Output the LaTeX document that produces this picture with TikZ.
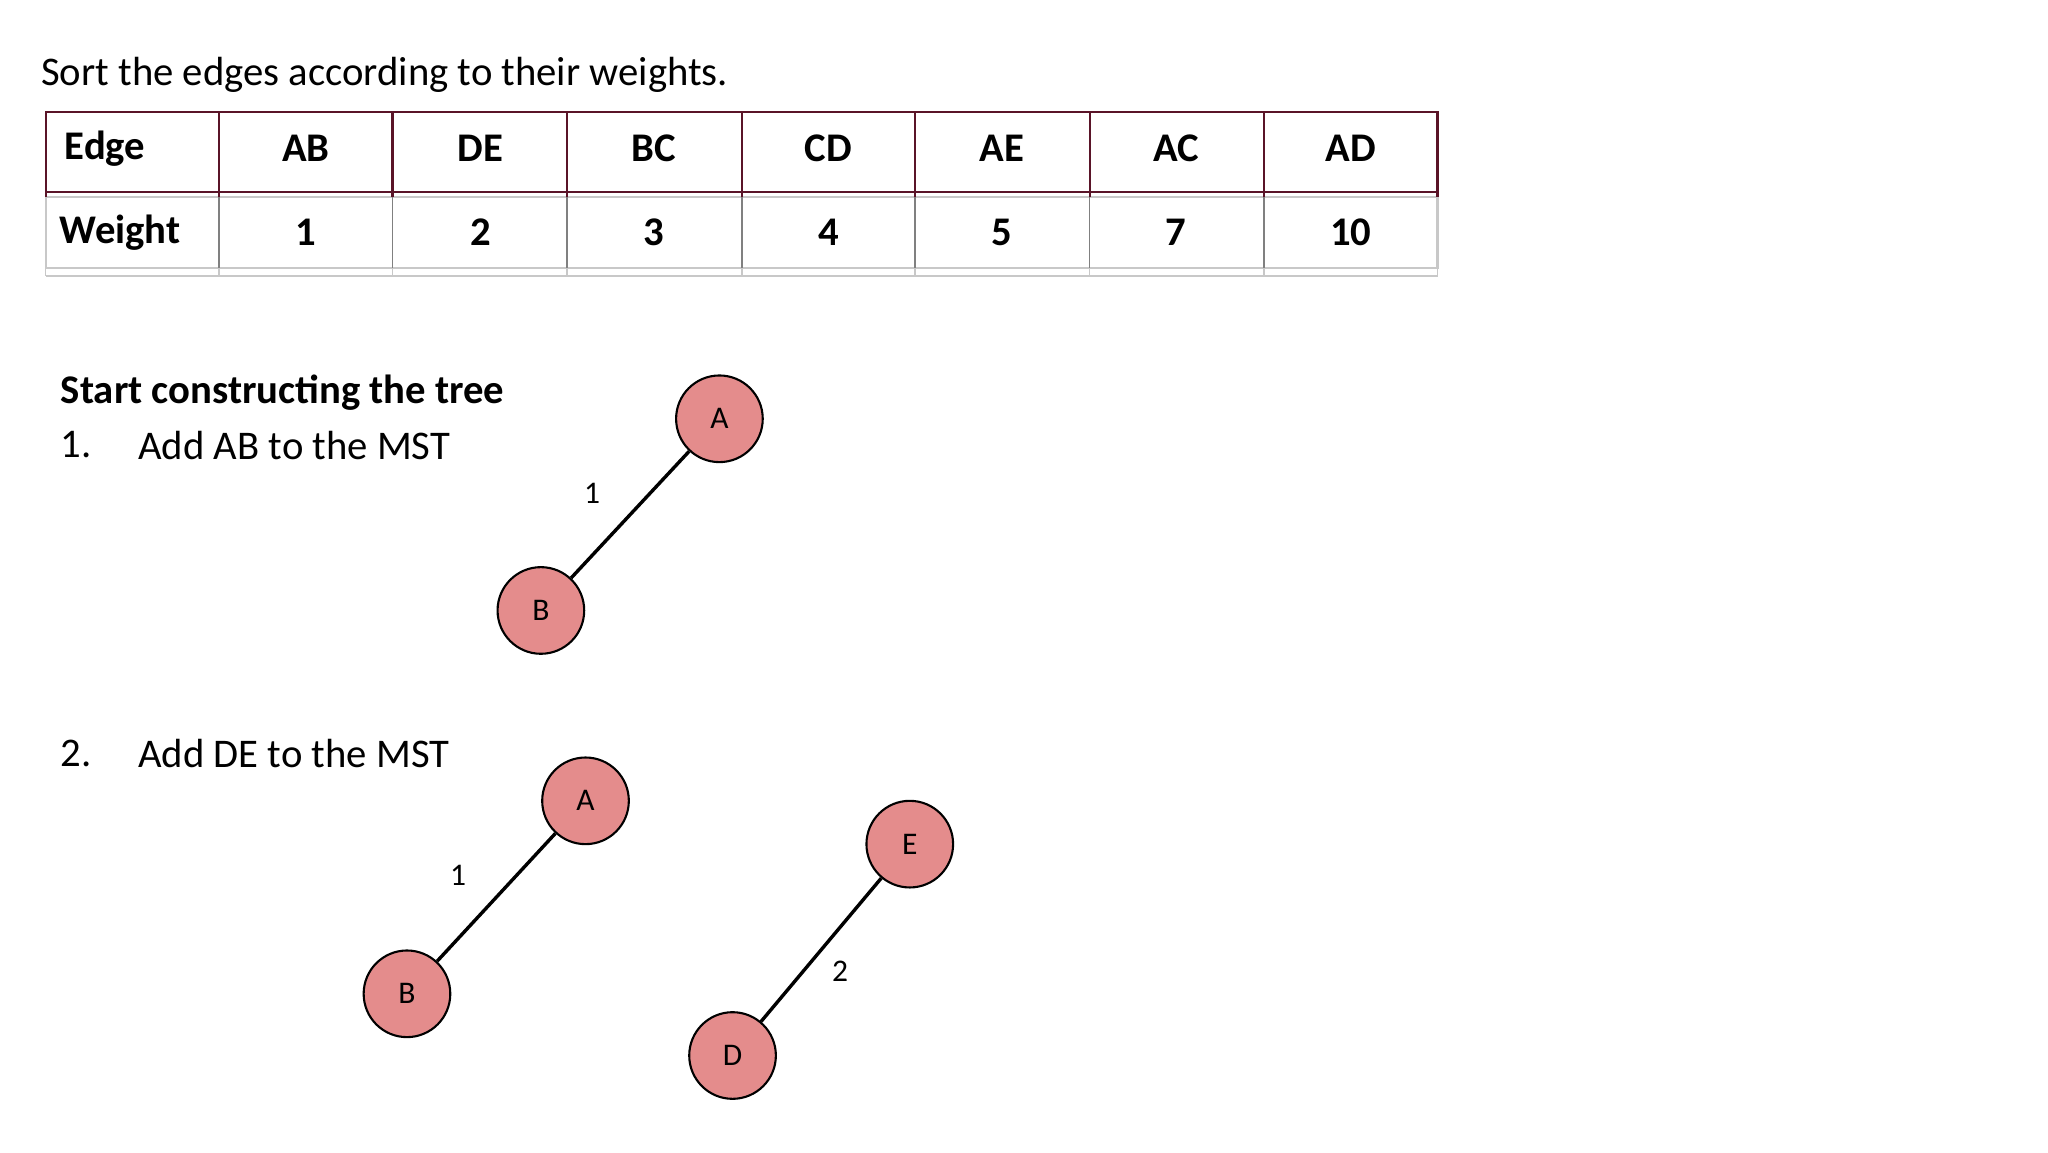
\documentclass[tikz,border=0pt]{standalone}
\usepackage{fontspec}
\setmainfont{Carlito}
\definecolor{nodefill}{RGB}{228,140,140}
\definecolor{maroon}{RGB}{90,20,40}
\definecolor{lgray}{RGB}{200,200,200}
\begin{document}
\begin{tikzpicture}[x=0.5pt,y=-0.5pt,
  vtx/.style={circle,draw=black,line width=0.8pt,fill=nodefill,minimum size=33pt,inner sep=0pt,font=\fontsize{12}{14}\selectfont},
  edg/.style={line width=1.3pt},
  wlab/.style={font=\fontsize{12}{14}\selectfont},
  txt/.style={anchor=west,inner sep=0pt,font=\fontsize{15.5}{18}\selectfont},
  cell/.style={font=\bfseries\fontsize{15.5}{18}\selectfont,inner sep=0pt}]
\useasboundingbox (0,0) rectangle (1560,878);
\node[txt] (title) at (31,57) {Sort the edges according to their weights.};
% table
\draw[maroon,line width=0.8pt] (35,85) rectangle (1095,146);
\draw[lgray,line width=0.8pt] (35,150) rectangle (1095,204);
\draw[lgray,line width=0.8pt] (35,210) -- (1095,210);
\draw[maroon,line width=0.8pt] (35,146) -- (35,150) (1095,146)--(1095,150);
\foreach \x in {167,299,432,565,697,830,963}{
  \draw[maroon,line width=0.8pt] (\x,85) -- (\x,150);
  \draw[gray,line width=0.6pt] (\x,150) -- (\x,204);
  \draw[lgray,line width=0.6pt] (\x,204) -- (\x,210);
}
\draw[lgray] (35,204)--(35,210) (1095,204)--(1095,210);
\node[cell,anchor=west] (h0) at (49,113) {Edge};
\node[cell,anchor=west] (w0) at (45,177) {Weight};
\foreach \t/\w/\x [count=\i] in {AB/1/233,DE/2/366,BC/3/498,CD/4/631,AE/5/763,AC/7/896,AD/10/1029}{
  \node[cell] (h\i) at (\x,113) {\t};
  \node[cell] (w\i) at (\x,177) {\w};
}
\node[txt,font=\bfseries\fontsize{15.5}{18}\selectfont] (start) at (46,299) {Start constructing the tree};
\node[txt] (n1) at (46,339) {1.};
\node[txt] (s1) at (105,339) {Add AB to the MST};
\node[txt] (n2) at (46,574) {2.};
\node[txt] (s2) at (105,574) {Add DE to the MST};
% graph 1
\node[vtx] (A1) at (548,319) {A};
\node[vtx] (B1) at (412,465) {B};
\draw[edg] (A1) -- (B1);
\node[wlab] (l1) at (451,376) {1};
% graph 2
\node[vtx] (A2) at (446,610) {A};
\node[vtx] (B2) at (310,757) {B};
\draw[edg] (A2) -- (B2);
\node[wlab] (l2) at (349,667) {1};
\node[vtx] (E2) at (693,643) {E};
\node[vtx] (D2) at (558,804) {D};
\draw[edg] (E2) -- (D2);
\node[wlab] (l3) at (640,740) {2};
\end{tikzpicture}
\end{document}
